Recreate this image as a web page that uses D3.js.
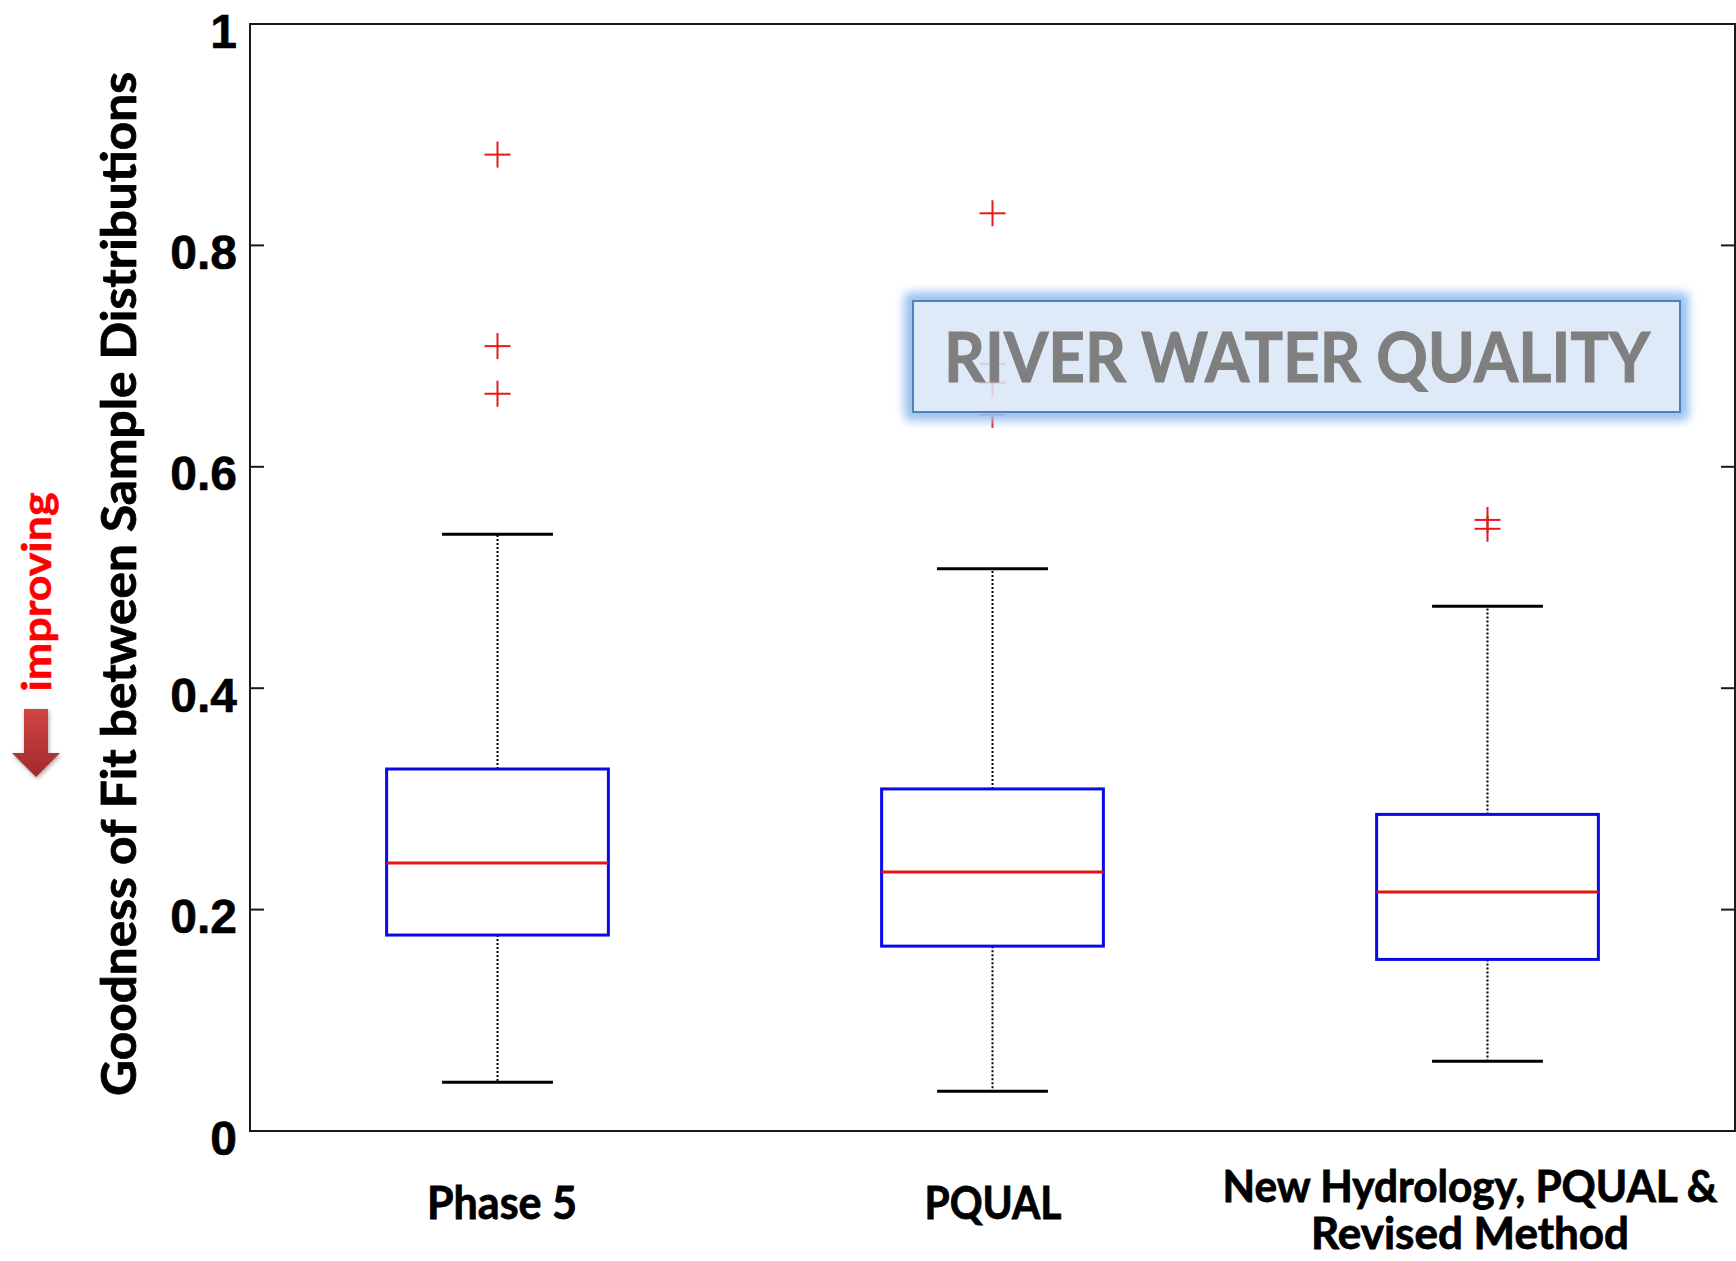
<!DOCTYPE html>
<html>
<head>
<meta charset="utf-8">
<script src="https://cdn.jsdelivr.net/npm/d3@7"></script>
<style>
html,body{margin:0;padding:0;background:#fff;overflow:hidden;}
svg{display:block;}
</style>
</head>
<body>
<svg id="chart" width="1736" height="1261"></svg>
<script>
// ---- data ----
const categories = ["Phase 5", "PQUAL", "New Hydrology, PQUAL & Revised Method"];
const categoryLabelLines = [["Phase 5"], ["PQUAL"], ["New Hydrology, PQUAL &", "Revised Method"]];
const whiskerLow  = [0.044, 0.036, 0.063];
const q1          = [0.177, 0.167, 0.155];
const median      = [0.242, 0.234, 0.216];
const q3          = [0.327, 0.309, 0.286];
const whiskerHigh = [0.539, 0.508, 0.474];
const outliers    = [[0.882, 0.709, 0.666], [0.829, 0.693, 0.676, 0.647], [0.552, 0.544]];
const yTicks = [0, 0.2, 0.4, 0.6, 0.8, 1];
const yTickLabels = ["0", "0.2", "0.4", "0.6", "0.8", "1"];
const yAxisTitle = "Goodness of Fit between Sample Distributions";
const improvingLabel = "improving";
const annotationText = "RIVER WATER QUALITY";

// ---- layout ----
const svg = d3.select("#chart");
const plot = {left: 250, right: 1735, top: 24, bottom: 1131};
const x = d3.scaleLinear().domain([0.5, 3.5]).range([plot.left, plot.right]);
const y = d3.scaleLinear().domain([0, 1]).range([plot.bottom, plot.top]);
const boxHalf = (x(2) - x(1)) * 0.224;
const capHalf = boxHalf / 2;

const defs = svg.append("defs");
const glow = defs.append("filter").attr("id", "glow").attr("x", "-10%").attr("y", "-50%").attr("width", "120%").attr("height", "200%");
glow.append("feGaussianBlur").attr("in", "SourceGraphic").attr("stdDeviation", 5);
const grad = defs.append("linearGradient").attr("id", "arrowGrad").attr("x1", 0).attr("y1", 0).attr("x2", 0).attr("y2", 1);
grad.append("stop").attr("offset", "0%").attr("stop-color", "#d24545");
grad.append("stop").attr("offset", "100%").attr("stop-color", "#a12a2a");
const shadow = defs.append("filter").attr("id", "shadow").attr("x", "-30%").attr("y", "-30%").attr("width", "160%").attr("height", "160%");
shadow.append("feDropShadow").attr("dx", 1).attr("dy", 2).attr("stdDeviation", 2).attr("flood-color", "#000").attr("flood-opacity", 0.35);

// frame
svg.append("rect").attr("x", plot.left).attr("y", plot.top)
  .attr("width", plot.right - plot.left).attr("height", plot.bottom - plot.top)
  .attr("fill", "none").attr("stroke", "#1a1a1a").attr("stroke-width", 2);

// y axis (left) via d3 axis
const yAxis = d3.axisLeft(y).tickValues(yTicks).tickSize(0).tickFormat((d, i) => yTickLabels[i]);
const gy = svg.append("g").attr("transform", `translate(${plot.left},0)`).call(yAxis);
gy.select(".domain").remove();
gy.selectAll("text")
  .attr("x", -13).attr("dy", null).attr("dominant-baseline", null)
  .attr("transform", "translate(0,23)")
  .style("font-family", "'Liberation Sans', Arial, sans-serif")
  .style("font-weight", "bold").style("font-size", "48px").attr("fill", "#000")
  .attr("stroke", "#000").attr("stroke-width", 0.6);
// inward ticks left and right
const innerTicks = yTicks.filter(t => t > 0 && t < 1);
svg.append("g").selectAll("line").data(innerTicks).join("line")
  .attr("x1", plot.left).attr("x2", plot.left + 14)
  .attr("y1", d => y(d)).attr("y2", d => y(d))
  .attr("stroke", "#1a1a1a").attr("stroke-width", 2);
svg.append("g").selectAll("line").data(innerTicks).join("line")
  .attr("x1", plot.right - 14).attr("x2", plot.right)
  .attr("y1", d => y(d)).attr("y2", d => y(d))
  .attr("stroke", "#1a1a1a").attr("stroke-width", 2);

// boxes
const idx = categories.map((c, i) => i);
const g = svg.append("g");
idx.forEach(i => {
  const cx = x(i + 1);
  g.append("line").attr("x1", cx).attr("x2", cx).attr("y1", y(q3[i])).attr("y2", y(whiskerHigh[i]))
    .attr("stroke", "#000").attr("stroke-width", 2).attr("stroke-dasharray", "2,2");
  g.append("line").attr("x1", cx).attr("x2", cx).attr("y1", y(q1[i])).attr("y2", y(whiskerLow[i]))
    .attr("stroke", "#000").attr("stroke-width", 2).attr("stroke-dasharray", "2,2");
  [whiskerHigh[i], whiskerLow[i]].forEach(v => {
    g.append("line").attr("x1", cx - capHalf).attr("x2", cx + capHalf).attr("y1", y(v)).attr("y2", y(v))
      .attr("stroke", "#000").attr("stroke-width", 3);
  });
  g.append("rect").attr("x", cx - boxHalf).attr("y", y(q3[i]))
    .attr("width", boxHalf * 2).attr("height", y(q1[i]) - y(q3[i]))
    .attr("fill", "none").attr("stroke", "#0a0ae6").attr("stroke-width", 3);
  g.append("line").attr("x1", cx - boxHalf).attr("x2", cx + boxHalf)
    .attr("y1", y(median[i])).attr("y2", y(median[i]))
    .attr("stroke", "#e61414").attr("stroke-width", 3);
  const s = 13;
  outliers[i].forEach(v => {
    g.append("line").attr("x1", cx - s).attr("x2", cx + s).attr("y1", y(v)).attr("y2", y(v))
      .attr("stroke", "#e31a1a").attr("stroke-width", 2);
    g.append("line").attr("x1", cx).attr("x2", cx).attr("y1", y(v) - s).attr("y2", y(v) + s)
      .attr("stroke", "#e31a1a").attr("stroke-width", 2);
  });
});

// x category labels
const labelFont = "Lato, 'Open Sans', sans-serif";
const labelWidths = [[150], [137], [495, 318]];
const labelBaselines = [[1219], [1219], [1202, 1249]];
const labelCenters = [502, 993, 1470];
idx.forEach(i => {
  categoryLabelLines[i].forEach((line, j) => {
    svg.append("text").attr("x", labelCenters[i]).attr("y", labelBaselines[i][j])
      .attr("text-anchor", "middle").attr("textLength", labelWidths[i][j]).attr("lengthAdjust", "spacingAndGlyphs")
      .style("font-family", labelFont).style("font-weight", "bold").style("font-size", (i === 2 ? 43 : 45) + "px")
      .attr("fill", "#000").attr("stroke", "#000").attr("stroke-width", 0.8).text(line);
  });
});

// y axis title
svg.append("text").attr("transform", "translate(136,584) rotate(-90)")
  .attr("text-anchor", "middle").attr("textLength", 1024).attr("lengthAdjust", "spacingAndGlyphs")
  .style("font-family", labelFont).style("font-weight", "bold").style("font-size", "48px")
  .attr("fill", "#000").attr("stroke", "#000").attr("stroke-width", 0.8).text(yAxisTitle);

// improving label + arrow
svg.append("text").attr("transform", "translate(51,592) rotate(-90)")
  .attr("text-anchor", "middle").attr("textLength", 199).attr("lengthAdjust", "spacingAndGlyphs")
  .style("font-family", labelFont).style("font-weight", "bold").style("font-size", "40px")
  .attr("fill", "#ff0000").attr("stroke", "#ff0000").attr("stroke-width", 0.6).text(improvingLabel);
const ax = 36;
svg.append("path")
  .attr("d", `M${ax-12},709 L${ax+12},709 L${ax+12},753 L${ax+24},753 L${ax},777 L${ax-24},753 L${ax-12},753 Z`)
  .attr("fill", "url(#arrowGrad)").attr("filter", "url(#shadow)");

// annotation box
const ab = {x: 913, y: 301, w: 767, h: 111};
svg.append("rect").attr("x", ab.x - 9).attr("y", ab.y - 9).attr("width", ab.w + 18).attr("height", ab.h + 18)
  .attr("rx", 6).attr("fill", "#9cc2f0").attr("filter", "url(#glow)");
svg.append("rect").attr("x", ab.x).attr("y", ab.y).attr("width", ab.w).attr("height", ab.h)
  .attr("fill", "#dfeaf8").attr("fill-opacity", 1).attr("stroke", "#4f81bd").attr("stroke-width", 2);
// faint outliers visible through the semi-transparent box
const inside = outliers[1].filter(v => y(v) > ab.y && y(v) < ab.y + ab.h);
const cx2 = x(2);
inside.forEach(v => {
  svg.append("line").attr("x1", cx2 - 13).attr("x2", cx2 + 13).attr("y1", y(v)).attr("y2", y(v))
    .attr("stroke", "#e31a1a").attr("stroke-width", 2).attr("opacity", 0.15);
  svg.append("line").attr("x1", cx2).attr("x2", cx2).attr("y1", Math.max(ab.y + 2, y(v) - 13)).attr("y2", Math.min(ab.y + ab.h - 2, y(v) + 13))
    .attr("stroke", "#e31a1a").attr("stroke-width", 2).attr("opacity", 0.15);
});
svg.append("text").attr("x", 1297).attr("y", 382).attr("text-anchor", "middle")
  .attr("textLength", 706).attr("lengthAdjust", "spacingAndGlyphs")
  .style("font-family", labelFont).style("font-weight", "bold").style("font-size", "68px")
  .attr("fill", "#7f7f7f").attr("stroke", "#7f7f7f").attr("stroke-width", 1).text(annotationText);
</script>
</body>
</html>
